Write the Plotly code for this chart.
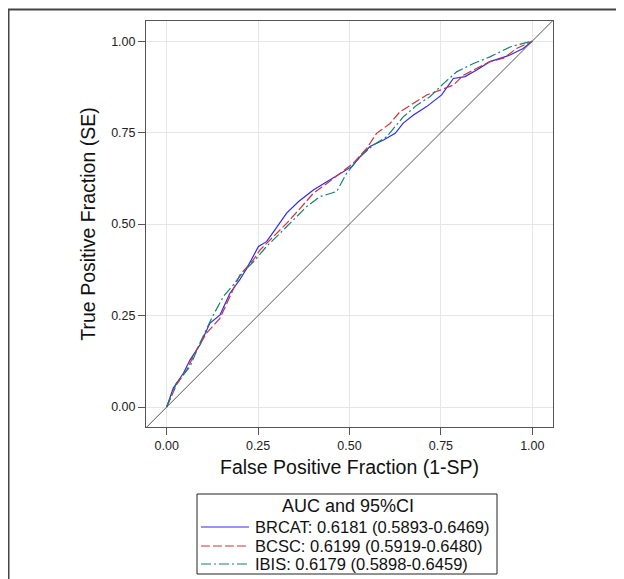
import plotly.graph_objects as go

# ROC curve points
brcat_fpf = [0, 0.018, 0.046, 0.064, 0.091, 0.118, 0.146, 0.173, 0.200, 0.219, 0.251, 0.273, 0.296, 0.328, 0.360,
             0.401, 0.438, 0.474, 0.506, 0.529, 0.556, 0.593, 0.625, 0.647, 0.675, 0.711, 0.752, 0.784, 0.816,
             0.848, 0.884, 0.939, 0.975, 1.0]
brcat_tpf = [0, 0.052, 0.093, 0.129, 0.170, 0.229, 0.252, 0.311, 0.348, 0.379, 0.439, 0.452, 0.484, 0.530, 0.561,
             0.593, 0.616, 0.639, 0.657, 0.684, 0.712, 0.730, 0.748, 0.776, 0.798, 0.821, 0.853, 0.898, 0.903,
             0.921, 0.944, 0.962, 0.980, 1.0]

bcsc_fpf = [0, 0.027, 0.055, 0.082, 0.109, 0.146, 0.173, 0.200, 0.237, 0.255, 0.292, 0.328, 0.365, 0.401, 0.438,
            0.474, 0.510, 0.547, 0.574, 0.611, 0.638, 0.675, 0.711, 0.748, 0.784, 0.812, 0.848, 0.884, 0.921,
            0.957, 1.0]
bcsc_tpf = [0, 0.061, 0.102, 0.157, 0.202, 0.243, 0.302, 0.361, 0.402, 0.429, 0.466, 0.502, 0.543, 0.584, 0.611,
            0.639, 0.666, 0.707, 0.748, 0.775, 0.807, 0.830, 0.853, 0.866, 0.880, 0.907, 0.926, 0.944, 0.953,
            0.980, 1.0]

ibis_fpf = [0, 0.027, 0.064, 0.091, 0.123, 0.155, 0.182, 0.210, 0.242, 0.273, 0.310, 0.346, 0.383, 0.419, 0.465,
            0.492, 0.529, 0.565, 0.602, 0.647, 0.684, 0.720, 0.757, 0.793, 0.839, 0.884, 0.912, 0.939, 0.975, 1.0]
ibis_tpf = [0, 0.066, 0.111, 0.175, 0.243, 0.302, 0.334, 0.370, 0.402, 0.439, 0.475, 0.511, 0.548, 0.575, 0.589,
            0.639, 0.684, 0.716, 0.739, 0.793, 0.825, 0.848, 0.884, 0.916, 0.939, 0.957, 0.971, 0.984, 0.994, 1.0]

series_names = ["BRCAT: 0.6181 (0.5893-0.6469)",
                "BCSC: 0.6199 (0.5919-0.6480)",
                "IBIS: 0.6179 (0.5898-0.6459)"]
legend_title = "AUC and 95%CI"
tick_vals = [0, 0.25, 0.5, 0.75, 1.0]
tick_text = ["0.00", "0.25", "0.50", "0.75", "1.00"]
ref_line = [-0.06, 1.06]

FONT = "Liberation Sans, Arial, sans-serif"
colors = ["#2B2BF5", "#D0323C", "#17806D"]
dashes = ["solid", "9px,3px", "10px,3px,2px,3px"]

XR = [-0.0566, 1.0566]
YR = [-0.0545, 1.055]

# page is offset by the 8px body margin; figure laid out accordingly
W, H = 616, 571
ML, MR, MT, MB = 138, 71, 13, 152
PW = W - ML - MR
PH = H - MT - MB


def px(page_x):
    return (page_x - 8 - ML) / PW


def py(page_y):
    return (H - MB - (page_y - 8)) / PH


fig = go.Figure()
fig.add_trace(go.Scatter(x=ref_line, y=ref_line, mode="lines", showlegend=False,
                         line=dict(color="#555555", width=1), hoverinfo="skip"))
for fx, ty, name, c, d in zip([brcat_fpf, bcsc_fpf, ibis_fpf], [brcat_tpf, bcsc_tpf, ibis_tpf],
                              series_names, colors, dashes):
    fig.add_trace(go.Scatter(x=fx, y=ty, mode="lines", name=name, showlegend=False,
                             line=dict(color=c, width=1.2, dash=d)))

axis_common = dict(
    showgrid=True, gridcolor="#E6E6E6", gridwidth=1,
    showline=True, linecolor="#555555", linewidth=1, mirror=True,
    ticks="outside", ticklen=7, tickcolor="#555555", tickwidth=1,
    tickvals=tick_vals, ticktext=tick_text,
    tickfont=dict(family=FONT, size=12.5, color="#222222"),
    zeroline=False,
)

fig.update_xaxes(range=XR, title=dict(text="False Positive Fraction (1-SP)", standoff=8,
                                      font=dict(family=FONT, size=19.5, color="#111111")),
                 **axis_common)
fig.update_yaxes(range=YR, title=dict(text="True Positive Fraction (SE)", standoff=10,
                                      font=dict(family=FONT, size=19.5, color="#111111")),
                 **axis_common)

shapes = [
    # outer frame
    dict(type="rect", xref="paper", yref="paper",
         x0=px(8.5), x1=1.4, y0=-0.7, y1=py(9.5),
         line=dict(color="#444444", width=2), layer="below"),
    # legend box
    dict(type="rect", xref="paper", yref="paper",
         x0=px(197), x1=px(497), y0=py(574), y1=py(494),
         line=dict(color="#222222", width=1), fillcolor="white", layer="above"),
]
annotations = [
    dict(text=legend_title, xref="paper", yref="paper", x=px(348), y=py(506),
         xanchor="center", yanchor="middle", showarrow=False,
         font=dict(family=FONT, size=18, color="#111111")),
]
row_y = [527, 546, 564]
for name, c, d, ry in zip(series_names, colors, dashes, row_y):
    shapes.append(dict(type="line", xref="paper", yref="paper",
                       x0=px(201), x1=px(249), y0=py(ry), y1=py(ry),
                       line=dict(color=c, width=1.2, dash=d)))
    annotations.append(dict(text=name, xref="paper", yref="paper", x=px(253), y=py(ry),
                            xanchor="left", yanchor="middle", showarrow=False,
                            font=dict(family=FONT, size=16.5, color="#111111")))

fig.update_layout(
    width=W, height=H,
    margin=dict(l=ML, r=MR, t=MT, b=MB),
    paper_bgcolor="white", plot_bgcolor="white",
    font=dict(family=FONT, color="#111111"),
    showlegend=False,
    shapes=shapes,
    annotations=annotations,
)

fig.write_html("out.html")
